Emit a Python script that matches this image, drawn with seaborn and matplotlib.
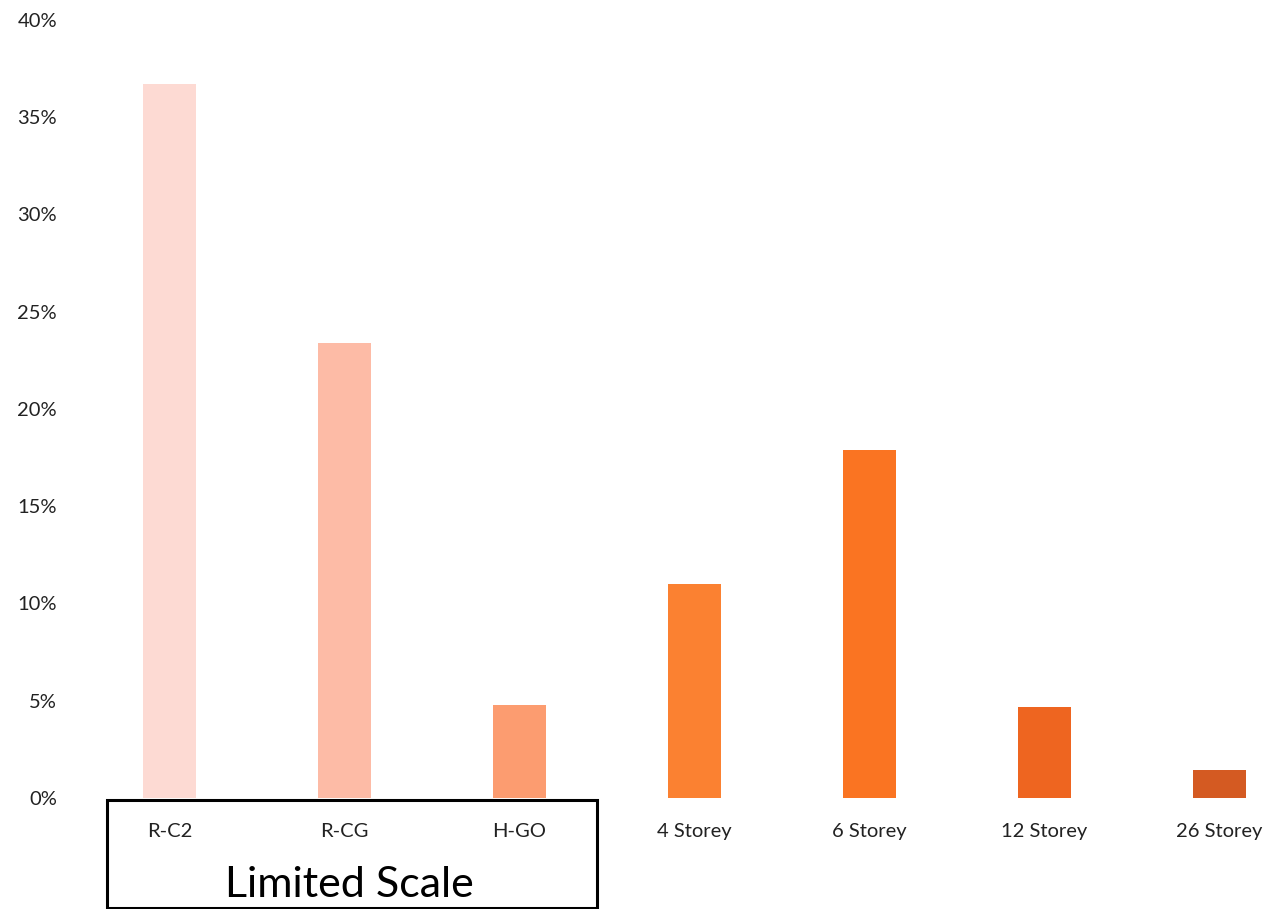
import numpy as np
import pandas as pd
import seaborn as sns
import matplotlib.pyplot as plt
from matplotlib.patches import Rectangle
from matplotlib.ticker import PercentFormatter

categories = ["R-C2", "R-CG", "H-GO", "4 Storey", "6 Storey", "12 Storey", "26 Storey"]
shares = [36.7, 23.4, 4.8, 11.0, 17.9, 4.7, 1.45]
colours = ["#FDDAD3", "#FDBBA6", "#FC9C70", "#FB8131", "#FA7422", "#EE6520", "#D45A22"]

df = pd.DataFrame({"type": categories, "share": shares})

sns.set_theme(style="white")
plt.rcParams['font.family'] = ['Lato', 'DejaVu Sans']

fig = plt.figure(figsize=(12.72, 9.09), dpi=100)
ax = fig.add_axes([82 / 1272, 1 - 798 / 909, 1190 / 1272, 778 / 909])

sns.barplot(data=df, x="type", y="share", hue="type", palette=colours,
            legend=False, width=0.3, saturation=1, linewidth=0, ax=ax)

ax.set_xlim(-0.5, 6.3)
ax.set_ylim(0, 40)
ax.set_yticks(np.arange(0, 41, 5))
ax.yaxis.set_major_formatter(PercentFormatter(decimals=0))
ax.set_xlabel("")
ax.set_ylabel("")
ax.tick_params(axis="x", labelsize=14.5, pad=18, length=0, colors="#222222")
ax.tick_params(axis="y", labelsize=14.5, pad=18, length=0, colors="#222222")
sns.despine(ax=ax, left=True, bottom=True)

# box around the limited scale group
trans = ax.get_xaxis_transform()
ax.add_patch(Rectangle((-0.357, -0.142), 2.8, 0.139, transform=trans,
                       fill=False, edgecolor="black", linewidth=2.2, clip_on=False))
ax.text(1.03, -0.112, "Limited Scale", transform=trans, ha="center", va="center",
        fontsize=31, color="black")

fig.savefig("out.png", dpi=100)
